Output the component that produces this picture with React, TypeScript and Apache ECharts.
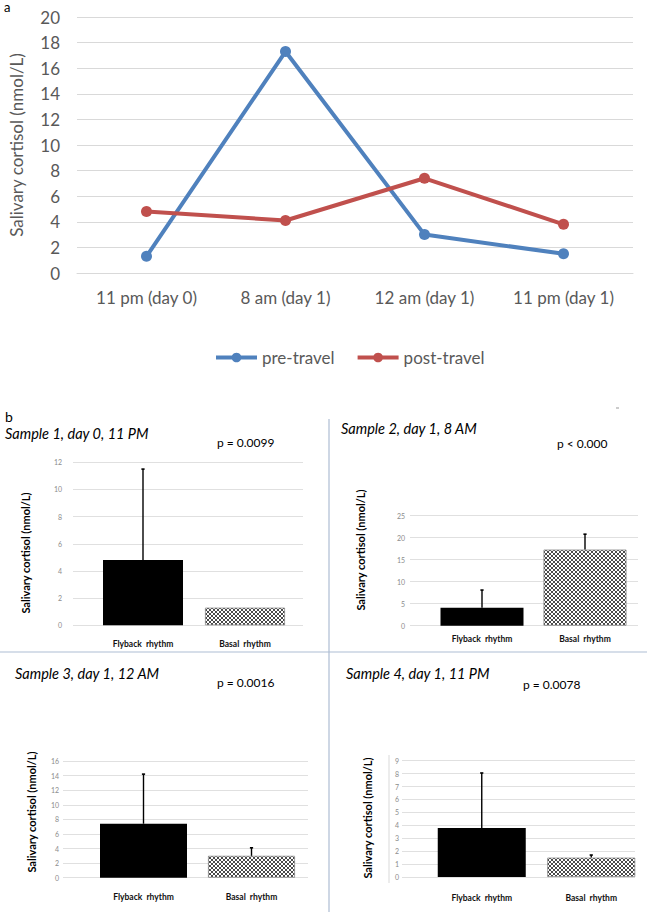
import React, { useEffect, useRef } from "react";
import * as echarts from "echarts";

// ---------- data ----------
const timePoints = ["11 pm (day 0)", "8 am (day 1)", "12 am (day 1)", "11 pm (day 1)"];
const seriesNames = ["pre-travel", "post-travel"];
const preTravel = [1.3, 17.3, 3.0, 1.5];
const postTravel = [4.8, 4.1, 7.4, 3.8];
const topYMax = 20;
const topYInterval = 2;

const barCategories = ["Flyback  rhythm", "Basal  rhythm"];
const sampleTitles = [
  "Sample 1, day 0, 11 PM",
  "Sample 2, day 1, 8 AM",
  "Sample 3, day 1, 12 AM",
  "Sample 4, day 1, 11 PM",
];
const pValues = ["p = 0.0099", "p < 0.000", "p = 0.0016", "p = 0.0078"];
// flyback = post-travel means, basal = pre-travel means
const flybackUpper = [11.5, 8.1, 14.2, 8.05];
const basalUpper: (number | null)[] = [null, 20.8, 4.1, 1.7];
const panelYMax = [12, 25, 16, 9];
const panelYInterval = [2, 5, 2, 1];
const yAxisName = "Salivary cortisol (nmol/L)";

// ---------- layout ----------
const W = 649;
const H = 916;
const FONT = "Lato, 'Open Sans', sans-serif";

const panels = [
  { gl: 73, gr: 303, top: 462.3, bottom: 625.3, bl: 92, br: 296, barW: 80, ym: 11, cm: 14, tx: 5, ty: 433, px: 217, py: 442, nx: 25, ny: 553 },
  { gl: 410, gr: 638, top: 515.7, bottom: 625.7, bl: 430.5, br: 636.5, barW: 83, ym: 5, cm: 9, tx: 341, ty: 428, px: 557, py: 443, nx: 360, ny: 550 },
  { gl: 63, gr: 308, top: 761, bottom: 877.7, bl: 89.5, br: 305.5, barW: 87, ym: 4, cm: 15, tx: 15, ty: 673, px: 217, py: 682, nx: 31, ny: 812 },
  { gl: 402, gr: 635, top: 760.7, bottom: 877, bl: 427, br: 646, barW: 88, ym: 3, cm: 16, tx: 346, ty: 673, px: 523, py: 684, nx: 367, ny: 818 },
];

function makePattern(): string {
  const c = document.createElement("canvas");
  c.width = 4;
  c.height = 4;
  const ctx = c.getContext("2d");
  if (ctx) {
    ctx.fillStyle = "#ffffff";
    ctx.fillRect(0, 0, 4, 4);
    ctx.fillStyle = "#4a4a4a";
    for (let i = 0; i < 4; i++) {
      ctx.fillRect(i, i, 1, 1);
      ctx.fillRect(3 - i, i, 1, 1);
    }
  }
  return c.toDataURL();
}

function errorBarRender(params: any, api: any) {
  const idx = api.value(0);
  const v = api.value(1);
  const u = api.value(2);
  if (u == null || isNaN(u)) return null;
  const p0 = api.coord([idx, v]);
  const p1 = api.coord([idx, u]);
  return {
    type: "group",
    children: [
      { type: "line", shape: { x1: p0[0], y1: p0[1], x2: p1[0], y2: p1[1] }, style: { stroke: "#000", lineWidth: 1.4 } },
      { type: "line", shape: { x1: p1[0] - 1.6, y1: p1[1], x2: p1[0] + 1.6, y2: p1[1] }, style: { stroke: "#000", lineWidth: 1.6 } },
    ],
  };
}

export default function App() {
  const ref = useRef<HTMLDivElement>(null);

  useEffect(() => {
    if (!ref.current) return;
    document.body.style.margin = "0";
    const chart = echarts.init(ref.current, null, { renderer: "svg", width: W, height: H });
    const patternSrc = makePattern();

    const grid: any[] = [{ left: 73, top: 17, width: 560, height: 256 }];
    const xAxis: any[] = [
      {
        type: "category",
        gridIndex: 0,
        data: timePoints,
        boundaryGap: true,
        axisLine: { show: true, lineStyle: { color: "#d9d9d9", width: 1 } },
        axisTick: { show: false },
        axisLabel: { color: "#595959", fontSize: 17, fontFamily: FONT, margin: 16 },
      },
    ];
    const yAxis: any[] = [
      {
        type: "value",
        gridIndex: 0,
        min: 0,
        max: topYMax,
        interval: topYInterval,
        name: yAxisName,
        nameLocation: "middle",
        nameGap: 52,
        nameTextStyle: { color: "#595959", fontSize: 17, fontFamily: FONT },
        axisLine: { show: false },
        axisTick: { show: false },
        splitLine: { lineStyle: { color: "#d9d9d9", width: 1.2 } },
        axisLabel: { color: "#595959", fontSize: 17, fontFamily: FONT, margin: 17 },
      },
    ];
    const series: any[] = [
      {
        name: seriesNames[0],
        type: "line",
        xAxisIndex: 0,
        yAxisIndex: 0,
        data: preTravel,
        symbol: "circle",
        symbolSize: 11,
        lineStyle: { width: 4, color: "#4f81bd" },
        itemStyle: { color: "#4f81bd" },
      },
      {
        name: seriesNames[1],
        type: "line",
        xAxisIndex: 0,
        yAxisIndex: 0,
        data: postTravel,
        symbol: "circle",
        symbolSize: 11,
        lineStyle: { width: 4, color: "#c0504d" },
        itemStyle: { color: "#c0504d" },
      },
    ];

    const graphic: any[] = [
      { type: "text", x: 4, y: 0, style: { text: "a", font: `13px ${FONT}`, fill: "#000" } },
      { type: "text", x: 5, y: 416, style: { text: "b", font: `14px ${FONT}`, fill: "#000", textVerticalAlign: "middle" } },
      { type: "line", shape: { x1: 0, y1: 652, x2: 647, y2: 652 }, style: { stroke: "#aebdd3", lineWidth: 1.2 } },
      { type: "line", shape: { x1: 329, y1: 419, x2: 329, y2: 912 }, style: { stroke: "#aebdd3", lineWidth: 1.2 } },
      { type: "line", shape: { x1: 616, y1: 408, x2: 619, y2: 408 }, style: { stroke: "#999", lineWidth: 1 } },
      { type: "line", shape: { x1: 389, y1: 755, x2: 389, y2: 883 }, style: { stroke: "#d9d9d9", lineWidth: 1 } },
    ];

    panels.forEach((p, i) => {
      const bgIdx = 1 + i * 2;
      const barIdx = 2 + i * 2;
      grid.push({ left: p.gl, top: p.top, width: p.gr - p.gl, height: p.bottom - p.top });
      grid.push({ left: p.bl, top: p.top, width: p.br - p.bl, height: p.bottom - p.top });
      xAxis.push({ type: "value", gridIndex: bgIdx, show: false, min: 0, max: 1 });
      xAxis.push({
        type: "category",
        gridIndex: barIdx,
        data: barCategories,
        axisLine: { show: false },
        axisTick: { show: false },
        axisLabel: { color: "#111", fontSize: 8.5, fontWeight: "bold", fontFamily: FONT, margin: p.cm },
      });
      yAxis.push({
        type: "value",
        gridIndex: bgIdx,
        min: 0,
        max: panelYMax[i],
        interval: panelYInterval[i],
        axisLine: { show: false },
        axisTick: { show: false },
        splitLine: { lineStyle: { color: "#e0e0e0", width: 1 } },
        axisLabel: { color: "#8c8c8c", fontSize: 7, fontFamily: FONT, margin: p.ym },
      });
      yAxis.push({ type: "value", gridIndex: barIdx, show: false, min: 0, max: panelYMax[i], splitLine: { show: false } });

      series.push({
        type: "bar",
        xAxisIndex: barIdx,
        yAxisIndex: barIdx,
        barWidth: p.barW,
        data: [
          { value: postTravel[i], itemStyle: { color: "#000000" } },
          {
            value: preTravel[i],
            itemStyle: {
              color: { image: patternSrc, repeat: "repeat", imageWidth: 4, imageHeight: 4 },
              borderColor: "#8a8a8a",
              borderWidth: 0.8,
            },
          },
        ],
        z: 3,
      });
      series.push({
        type: "custom",
        xAxisIndex: barIdx,
        yAxisIndex: barIdx,
        renderItem: errorBarRender,
        encode: { x: 0, y: 1 },
        data: [
          [0, postTravel[i], flybackUpper[i]],
          [1, preTravel[i], basalUpper[i] == null ? NaN : basalUpper[i]],
        ],
        z: 5,
      });

      graphic.push({
        type: "text",
        x: p.tx,
        y: p.ty,
        style: { text: sampleTitles[i], font: `italic 14.5px ${FONT}`, fill: "#000", textVerticalAlign: "middle" },
      });
      graphic.push({
        type: "text",
        x: p.px,
        y: p.py,
        style: { text: pValues[i], font: `12px ${FONT}`, fill: "#000", textVerticalAlign: "middle" },
      });
      graphic.push({
        type: "text",
        x: p.nx,
        y: p.ny,
        rotation: Math.PI / 2,
        style: {
          text: yAxisName,
          font: `bold 11px ${FONT}`,
          fill: "#000",
          textAlign: "center",
          textVerticalAlign: "middle",
        },
      });
    });

    chart.setOption({
      animation: false,
      backgroundColor: "#ffffff",
      textStyle: { fontFamily: FONT },
      legend: {
        data: seriesNames,
        left: 209,
        top: 344,
        itemWidth: 41,
        itemHeight: 12,
        itemGap: 21,
        lineStyle: { width: 4 },
        textStyle: { color: "#595959", fontSize: 17, fontFamily: FONT },
      },
      grid,
      xAxis,
      yAxis,
      series,
      graphic,
    });

    return () => {
      chart.dispose();
    };
  }, []);

  return <div ref={ref} style={{ position: "absolute", left: 0, top: 0, width: W, height: H }} />;
}
